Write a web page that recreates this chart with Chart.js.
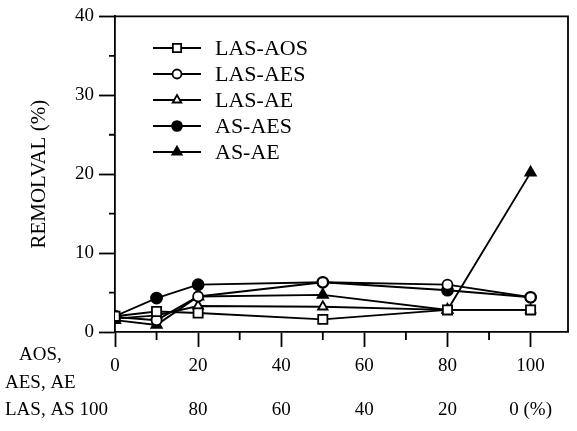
<!DOCTYPE html>
<html><head><meta charset="utf-8">
<script src="https://cdn.jsdelivr.net/npm/chart.js@4.4.1/dist/chart.umd.min.js"></script>
<style>html,body{margin:0;padding:0;background:#fff}#wrap{width:577px;height:431px}</style>
</head><body><div id="wrap"><canvas id="c" width="577" height="431"></canvas></div>
<script>
// ---- data ----
const xValues = [0, 10, 20, 50, 80, 100];
const seriesNames = ['LAS-AOS', 'LAS-AES', 'LAS-AE', 'AS-AES', 'AS-AE'];
const lasAos = [2.0, 2.6, 2.4, 1.6, 2.8, 2.8];
const lasAes = [1.9, 1.5, 4.5, 6.3, 6.0, 4.4];
const lasAe  = [1.7, 2.1, 3.3, 3.2, 2.8, 2.8];
const asAes  = [2.0, 4.3, 6.0, 6.3, 5.3, 4.4];
const asAe   = [1.5, 0.9, 4.5, 4.7, 2.8, 20.2];
const xTickTop    = ['0', '20', '40', '60', '80', '100'];
const xTickBottom = ['', '80', '60', '40', '20', '0 (%)'];
const xTickValues = [0, 20, 40, 60, 80, 100];
const yTickValues = [0, 10, 20, 30, 40];
const yTitle = 'REMOLVAL (%)';
const leftLabels = ['AOS,', 'AES, AE', 'LAS, AS 100'];

const FONT = "'Liberation Serif', 'DejaVu Serif', serif";
const styles = [
  {pointStyle: 'rect', radius: 6.5, fill: '#fff'},
  {pointStyle: 'circle', radius: 5, fill: '#fff'},
  {pointStyle: 'triangle', radius: 5.5, fill: '#fff'},
  {pointStyle: 'circle', radius: 5.5, fill: '#000'},
  {pointStyle: 'triangle', radius: 6, fill: '#000'}
];
const seriesValues = [lasAos, lasAes, lasAe, asAes, asAe];

const datasets = seriesNames.map((name, i) => ({
  label: name,
  data: xValues.map((x, j) => ({x: x, y: seriesValues[i][j]})),
  borderColor: '#000',
  borderWidth: 1.9,
  pointStyle: styles[i].pointStyle,
  pointRadius: styles[i].radius,
  pointBackgroundColor: styles[i].fill,
  pointBorderColor: '#000',
  pointBorderWidth: 1.8,
  tension: 0,
  fill: false
}));

const extras = {
  id: 'extras',
  afterDraw(chart) {
    const ctx = chart.ctx;
    const a = chart.chartArea;
    const xs = chart.scales.x, ys = chart.scales.y;
    ctx.save();
    ctx.strokeStyle = '#000';
    ctx.lineWidth = 1.8;
    // frame top and right
    ctx.beginPath();
    ctx.moveTo(a.left, a.top); ctx.lineTo(a.right, a.top); ctx.lineTo(a.right, a.bottom);
    ctx.stroke();
    // minor ticks
    ctx.beginPath();
    [10, 30, 50, 70, 90].forEach(v => {
      const px = xs.getPixelForValue(v);
      ctx.moveTo(px, a.bottom); ctx.lineTo(px, a.bottom + 8);
    });
    [5, 15, 25, 35].forEach(v => {
      const py = ys.getPixelForValue(v);
      ctx.moveTo(a.left, py); ctx.lineTo(a.left - 6, py);
    });
    ctx.stroke();
    // left-side axis captions
    ctx.fillStyle = '#000';
    ctx.font = "19px " + FONT;
    ctx.textBaseline = 'middle';
    ctx.textAlign = 'left';
    ctx.fillText(leftLabels[0], 19, 355);
    ctx.fillText(leftLabels[1], 5, 383);
    ctx.fillText(leftLabels[2], 5, 410);
    // legend
    const rowY = [48, 74, 100, 126, 152];
    chart.data.datasets.forEach((ds, i) => {
      const y = rowY[i];
      ctx.beginPath();
      ctx.lineWidth = 1.8;
      ctx.moveTo(153, y); ctx.lineTo(201, y);
      ctx.stroke();
      ctx.fillStyle = ds.pointBackgroundColor;
      ctx.strokeStyle = '#000';
      Chart.helpers.drawPoint(ctx, {pointStyle: ds.pointStyle, radius: ds.pointRadius * 0.9, borderWidth: 1.6, rotation: 0}, 177, y);
      ctx.fillStyle = '#000';
      ctx.font = "22px " + FONT;
      ctx.fillText(ds.label, 215, y + 1);
    });
    ctx.restore();
  }
};

new Chart(document.getElementById('c'), {
  type: 'line',
  data: {datasets},
  plugins: [extras],
  options: {
    responsive: false,
    devicePixelRatio: 1,
    animation: false,
    layout: {padding: {top: 16, right: 9, left: 0, bottom: 0}},
    plugins: {legend: {display: false}, tooltip: {enabled: false}},
    scales: {
      x: {
        type: 'linear', min: 0, max: 109,
        afterBuildTicks: s => { s.ticks = xTickValues.map(v => ({value: v})); },
        afterFit: s => { s.height = 99; },
        ticks: {
          autoSkip: false, maxRotation: 0, color: '#000', padding: -3,
          font: {family: FONT, size: 19, lineHeight: '44px'},
          callback: v => { const i = xTickValues.indexOf(v); return [xTickTop[i], xTickBottom[i]]; }
        },
        grid: {drawOnChartArea: false, tickLength: 15, tickColor: '#000', tickWidth: 1.8},
        border: {color: '#000', width: 1.8}
      },
      y: {
        min: 0, max: 40,
        afterBuildTicks: s => { s.ticks = yTickValues.map(v => ({value: v})); },
        afterFit: s => { s.width = 115; },
        ticks: {color: '#000', padding: 5, font: {family: FONT, size: 19}, callback: v => String(v)},
        grid: {drawOnChartArea: false, tickLength: 16, tickColor: '#000', tickWidth: 1.8},
        border: {color: '#000', width: 1.8},
        title: {display: true, text: yTitle, color: '#000', font: {family: FONT, size: 21}, padding: {top: 27, bottom: 0}}
      }
    }
  }
});
</script></body></html>
